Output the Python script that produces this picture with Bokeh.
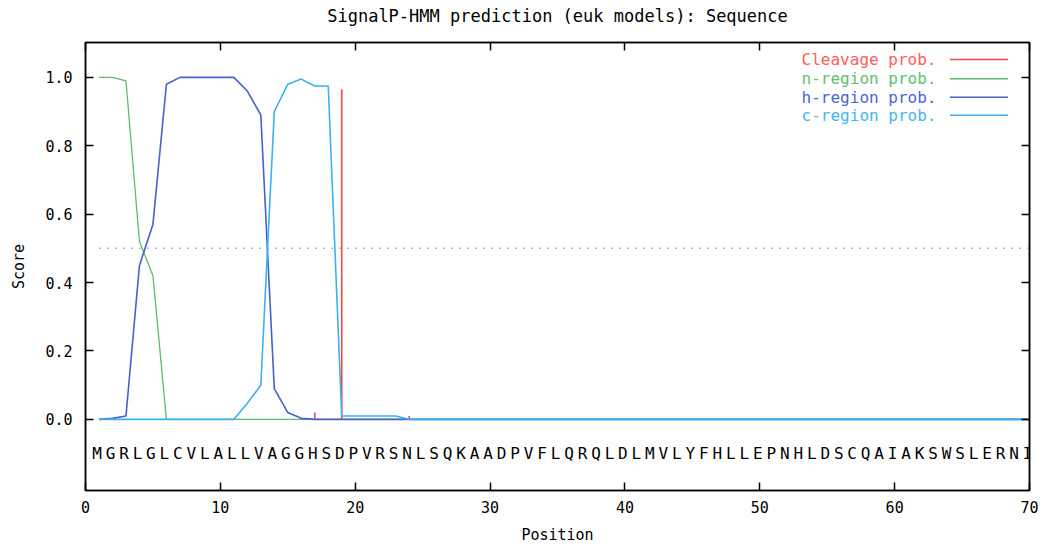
from bokeh.plotting import figure
from bokeh.models import (LinearAxis, Label, Arrow, FixedTicker, ColumnDataSource,
                          CustomJSTickFormatter, CustomLabelingPolicy)
from bokeh.core.properties import value
from bokeh.embed import file_html
from bokeh.resources import INLINE

title = "SignalP-HMM prediction (euk models): Sequence"
sequence = "MGRLGLCVLALLVAGGHSDPVRSNLSQKAADPVFLQRQLDLMVLYFHLLEPNHLDSCQAIAKSWSLERNI"
positions = list(range(1, 71))

cleavage = [0.0] * 70
cleavage[16] = 0.02
cleavage[18] = 0.965
cleavage[23] = 0.01

n_region = [1.0, 1.0, 0.99, 0.52, 0.42] + [0.0] * 65

h_region = [0.0, 0.003, 0.01, 0.45, 0.57, 0.98, 1.0, 1.0, 1.0, 1.0,
            1.0, 0.96, 0.89, 0.09, 0.02, 0.003] + [0.0] * 54

c_region = [0.0] * 10 + [0.0, 0.047, 0.10, 0.90, 0.98, 0.995, 0.975, 0.975,
                         0.01, 0.01, 0.01, 0.01, 0.01] + [0.0] * 47

threshold = 0.5

x_ticks = [0, 10, 20, 30, 40, 50, 60, 70]
y_ticks = [0.0, 0.2, 0.4, 0.6, 0.8, 1.0]

legend_labels = ["Cleavage prob.", "n-region prob.", "h-region prob.", "c-region prob."]
line_colors = ["#ee4848", "#5cbc6c", "#4660cc", "#3cb0f0"]
text_colors = ["#ff5c5c", "#62c070", "#4a66d4", "#44b6f4"]

FONT = "DejaVu Sans Mono"

p = figure(width=1044, height=546, x_range=(0, 70), y_range=(-0.208, 1.102),
           output_backend="svg", toolbar_location=None,
           min_border_left=85, min_border_right=15, min_border_top=42, min_border_bottom=56)

p.grid.visible = False
p.outline_line_color = "#000000"
p.outline_line_width = 1.5
p.background_fill_color = "white"
p.border_fill_color = "white"

def style_axis(ax, size="15px"):
    ax.axis_line_color = "#000000"
    ax.axis_line_width = 1.5
    ax.major_tick_in = 8
    ax.major_tick_out = 0
    ax.minor_tick_line_color = None
    ax.major_tick_line_color = "#000000"
    ax.major_tick_line_width = 1.5
    ax.major_label_text_font = FONT
    ax.major_label_text_font_size = size
    ax.major_label_text_color = "#000000"
    ax.axis_label_text_font = FONT
    ax.axis_label_text_font_size = "15px"
    ax.axis_label_text_font_style = "normal"
    ax.axis_label_text_color = "#000000"

no_labels_code = """
if (typeof indices.clear === 'function') { indices.clear(); }
else { for (const i of Array.from(indices)) indices.unset(i); }
return indices;
"""

p.xaxis.ticker = FixedTicker(ticks=x_ticks)
p.yaxis.ticker = FixedTicker(ticks=y_ticks)
p.xaxis.axis_label = "Position"
p.yaxis.axis_label = "Score"
style_axis(p.xaxis[0])
style_axis(p.yaxis[0])
p.yaxis.formatter = CustomJSTickFormatter(code="return tick.toFixed(1);")
p.xaxis.major_label_standoff = 10
p.yaxis.major_label_standoff = 13
p.xaxis.axis_label_standoff = 10
p.yaxis.axis_label_standoff = 14

# top axis: mirrored ticks, carries the chart title as its label
top_axis = LinearAxis(ticker=FixedTicker(ticks=x_ticks),
                      major_label_policy=CustomLabelingPolicy(code=no_labels_code))
style_axis(top_axis, size="0px")
top_axis.major_label_standoff = 0
top_axis.axis_label = title
top_axis.axis_label_text_font_size = "17px"
top_axis.axis_label_standoff = 17
p.add_layout(top_axis, "above")
right_axis = LinearAxis(ticker=FixedTicker(ticks=y_ticks),
                        major_label_policy=CustomLabelingPolicy(code=no_labels_code))
style_axis(right_axis, size="0px")
right_axis.major_label_standoff = 0
p.add_layout(right_axis, "right")

# threshold dotted line
p.line(positions, [threshold] * len(positions), line_color="#a4c4cc",
       line_width=1.5, line_dash="2 6")

# cleavage impulses
p.segment(x0=positions, y0=[0.0] * len(positions), x1=positions, y1=cleavage,
          line_color=line_colors[0], line_width=1.6)
p.line(positions, n_region, line_color=line_colors[1], line_width=1.3)
p.line(positions, h_region, line_color=line_colors[2], line_width=1.6)
p.line(positions, c_region, line_color=line_colors[3], line_width=1.6)

# sequence letters
seq_src = ColumnDataSource(dict(x=positions, y=[-0.1] * len(positions), t=list(sequence)))
p.text(x="x", y="y", text="t", source=seq_src, text_align="center",
       text_baseline="middle", x_offset=-2, text_font=value(FONT),
       text_font_size="16px", text_color="#000000")

# legend (text right-aligned, sample line to the right)
legend_y = [1.052, 0.996, 0.942, 0.889]
for lab, lc, tc, ly in zip(legend_labels, line_colors, text_colors, legend_y):
    p.add_layout(Label(x=63.1, y=ly, text=lab, text_align="right", text_baseline="middle",
                       text_font=FONT, text_font_size="16px", text_color=tc))
    p.add_layout(Arrow(end=None, x_start=64.1, y_start=ly, x_end=68.4, y_end=ly,
                       line_color=lc, line_width=1.5))

open("out.html", "w").write(file_html(p, INLINE))
